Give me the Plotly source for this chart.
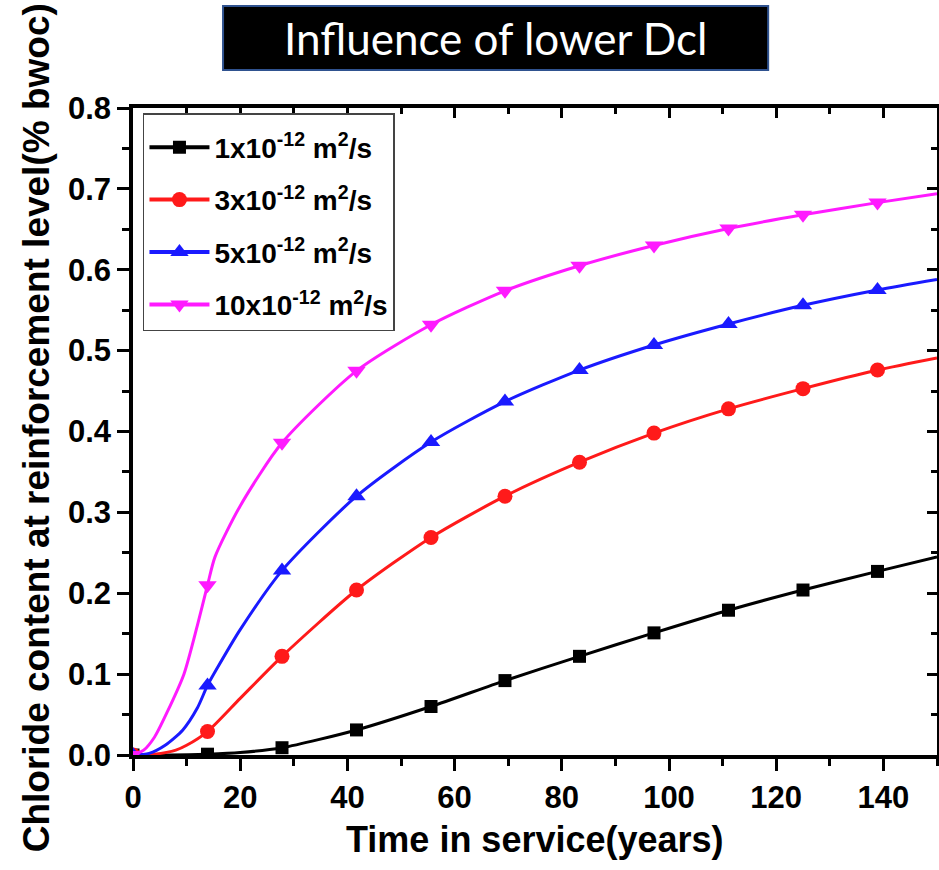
import plotly.graph_objects as go

# ---------------- data ----------------
def label(coef):
    return coef + "x10<sup>-12</sup> m<sup>2</sup>/s"

series_coefs = ["1", "3", "5", "10"]
series_names = [label(c) for c in series_coefs]
colors = ["black", "#ff1a1a", "#1a1aff", "#ff1aff"]
symbols = ["square", "circle", "triangle-up", "triangle-down"]
marker_sizes = [13, 15, 16, 16]

# marker positions (years)
marker_x = [0, 13.9, 27.8, 41.7, 55.6, 69.4, 83.3, 97.2, 111.1, 125, 138.9]
marker_y_1 = [0, 0.001, 0.009, 0.031, 0.060, 0.092, 0.122, 0.151, 0.179, 0.204, 0.227]
marker_y_3 = [0, 0.029, 0.122, 0.204, 0.269, 0.320, 0.362, 0.398, 0.428, 0.453, 0.476]
marker_y_5 = [0, 0.086, 0.228, 0.320, 0.387, 0.437, 0.476, 0.507, 0.533, 0.556, 0.575]
marker_y_10 = [0, 0.210, 0.386, 0.475, 0.532, 0.574, 0.605, 0.630, 0.651, 0.668, 0.683]

# curve points (years, % bwoc)
line_x_1 = [0, 7, 13.9, 20, 27.8, 41.7, 55.6, 69.4, 83.3, 97.2, 111.1, 125, 138.9, 150]
line_y_1 = [0, 0, 0.001, 0.003, 0.009, 0.031, 0.060, 0.092, 0.122, 0.151, 0.179, 0.204, 0.227, 0.245]
line_x_3 = [0, 4, 8, 10, 13.9, 20, 27.8, 41.7, 55.6, 69.4, 83.3, 97.2, 111.1, 125, 138.9, 150]
line_y_3 = [0, 0.001, 0.006, 0.012, 0.029, 0.070, 0.122, 0.204, 0.269, 0.320, 0.362, 0.398, 0.428, 0.453, 0.476, 0.491]
line_x_5 = [0, 3, 6, 9.3, 12, 13.9, 15.5, 20, 27.8, 41.7, 55.6, 69.4, 83.3, 97.2, 111.1, 125, 138.9, 150]
line_y_5 = [0, 0.002, 0.012, 0.031, 0.058, 0.086, 0.105, 0.155, 0.228, 0.320, 0.387, 0.437, 0.476, 0.507, 0.533, 0.556, 0.575, 0.588]
line_x_10 = [0, 2, 4, 6.3, 9.5, 12, 13.9, 15.3, 20, 27.8, 41.7, 55.6, 69.4, 83.3, 97.2, 111.1, 125, 138.9, 150]
line_y_10 = [0, 0.006, 0.022, 0.052, 0.100, 0.160, 0.210, 0.245, 0.308, 0.386, 0.475, 0.532, 0.574, 0.605, 0.630, 0.651, 0.668, 0.683, 0.694]

line_xs = [line_x_1, line_x_3, line_x_5, line_x_10]
line_ys = [line_y_1, line_y_3, line_y_5, line_y_10]
marker_ys = [marker_y_1, marker_y_3, marker_y_5, marker_y_10]

title_text = "Influence of lower Dcl"
x_title = "Time in service(years)"
y_title = "Chloride content at reinforcement level(% bwoc)"
x_range = [0, 150]
y_range = [0, 0.8]

# ---------------- figure ----------------
fig = go.Figure()
FONT = "Arial, Liberation Sans, sans-serif"

for i in range(4):
    fig.add_trace(go.Scatter(x=line_xs[i], y=line_ys[i], mode="lines",
                             line=dict(color=colors[i], width=3, shape="spline", smoothing=0.7),
                             showlegend=False, hoverinfo="skip"))
    fig.add_trace(go.Scatter(x=marker_x, y=marker_ys[i], mode="markers",
                             marker=dict(color=colors[i], symbol=symbols[i], size=marker_sizes[i]),
                             showlegend=False))
    # legend entry
    fig.add_trace(go.Scatter(x=[None], y=[None], mode="lines+markers", name=series_names[i],
                             legendgroup="g%d" % i,
                             line=dict(color=colors[i], width=4),
                             marker=dict(color=colors[i], symbol=symbols[i], size=marker_sizes[i])))

# dummy trace for mirrored axes
fig.add_trace(go.Scatter(x=[None], y=[None], xaxis="x2", yaxis="y2", showlegend=False, hoverinfo="skip"))

tickfont = dict(family=FONT, size=31, color="black", weight="bold")
common = dict(showline=True, linecolor="black", linewidth=3.5, showgrid=False, zeroline=False,
              tickcolor="black", tickwidth=3)

fig.update_layout(
    width=939, height=870,
    margin=dict(l=133, r=2, t=108, b=115),
    plot_bgcolor="white", paper_bgcolor="white",
    xaxis=dict(range=x_range, dtick=20, tick0=0, ticks="outside", ticklen=12,
               tickfont=tickfont, minor=dict(dtick=10, ticks="outside", ticklen=7, tickwidth=3, tickcolor="black"),
               **common),
    yaxis=dict(range=y_range, dtick=0.1, tick0=0, ticks="outside", ticklen=12, tickformat=".1f",
               tickfont=tickfont, minor=dict(dtick=0.05, ticks="outside", ticklen=7, tickwidth=3, tickcolor="black"),
               **common),
    xaxis2=dict(range=x_range, overlaying="x", side="top", dtick=20, tick0=0, ticks="inside", ticklen=10,
                showticklabels=False, minor=dict(dtick=10, ticks="inside", ticklen=6, tickwidth=3, tickcolor="black"),
                **common),
    yaxis2=dict(range=y_range, overlaying="y", side="right", dtick=0.1, tick0=0, ticks="inside", ticklen=10,
                showticklabels=False, minor=dict(dtick=0.05, ticks="inside", ticklen=6, tickwidth=3, tickcolor="black"),
                **common),
    legend=dict(x=0.0124, y=0.992, xanchor="left", yanchor="top",
                bgcolor="white", bordercolor="#444", borderwidth=1.5,
                font=dict(family=FONT, size=28, color="black", weight="bold"),
                title=dict(text=" ", font=dict(size=6)),
                itemwidth=60,
                traceorder="grouped", tracegroupgap=13),
    shapes=[dict(type="rect", xref="paper", yref="paper", x0=0.112, x1=0.790, y0=1.0587, y1=1.1577,
                 fillcolor="black", line=dict(color="#2f528f", width=2), layer="above")],
    annotations=[
        dict(text=title_text, xref="paper", yref="paper", x=0.451, y=1.108, xanchor="center", yanchor="middle",
             showarrow=False, font=dict(family="Lato, Open Sans, sans-serif", size=44, color="white")),
        dict(text=x_title, xref="paper", yref="paper", x=0.5, y=-0.131, xanchor="center", yanchor="middle",
             showarrow=False, font=dict(family=FONT, size=36, color="black", weight="bold")),
        dict(text=y_title, xref="paper", yref="paper", x=-0.1206, y=0.505, xanchor="center", yanchor="middle",
             textangle=-90, showarrow=False, font=dict(family=FONT, size=37, color="black", weight="bold")),
    ],
)

fig.write_html("out.html")
